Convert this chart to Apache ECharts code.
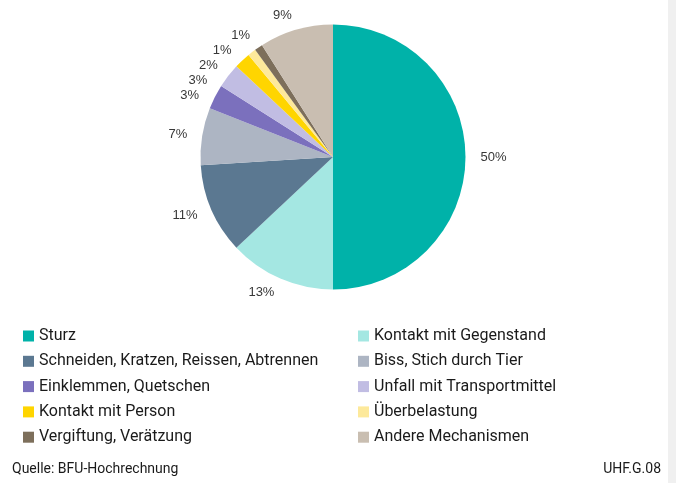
<!DOCTYPE html>
<html>
<head>
<meta charset="utf-8">
<script src="https://cdn.jsdelivr.net/npm/echarts@6/dist/echarts.min.js"></script>
<style>
  html, body { margin: 0; padding: 0; background: #fff; }
  #chart { width: 676px; height: 483px; }
</style>
</head>
<body>
<div id="chart"></div>
<script>
// Unfallmechanismen, Anteile in Prozent
const categories = [
  'Sturz',
  'Kontakt mit Gegenstand',
  'Schneiden, Kratzen, Reissen, Abtrennen',
  'Biss, Stich durch Tier',
  'Einklemmen, Quetschen',
  'Unfall mit Transportmittel',
  'Kontakt mit Person',
  'Überbelastung',
  'Vergiftung, Verätzung',
  'Andere Mechanismen'
];
const shares = [50, 13, 11, 7, 3, 3, 2, 1, 1, 9];
const colors = [
  '#00b2a9', '#a4e7e2', '#5b7891', '#adb5c3', '#7b70bd',
  '#c1bde3', '#ffd500', '#fde99b', '#7d6f5b', '#c9beb1'
];

// legend columns (row-wise pairing of the categories)
const legendLeft = categories.filter((_, i) => i % 2 === 0);
const legendRight = categories.filter((_, i) => i % 2 === 1);

const sourceText = 'Quelle: BFU-Hochrechnung';
const chartCode = 'UHF.G.08';

const chart = echarts.init(document.getElementById('chart'), null, { renderer: 'canvas' });

const legendBase = {
  orient: 'vertical',
  top: 327,
  padding: 0,
  itemWidth: 11,
  itemHeight: 11,
  itemGap: 7.3,
  icon: 'rect',
  selectedMode: false,
  textStyle: {
    fontFamily: 'Roboto',
    fontSize: 16,
    color: '#1a1a1a',
    lineHeight: 18
  }
};

chart.setOption({
  animation: false,
  color: colors,
  legend: [
    Object.assign({}, legendBase, { left: 23, data: legendLeft }),
    Object.assign({}, legendBase, { left: 358, data: legendRight })
  ],
  graphic: [
    {
      type: 'rect',
      right: 0,
      top: 0,
      shape: { width: 8, height: 483 },
      style: { fill: '#f0f0f0' },
      silent: true
    },
    {
      type: 'text',
      left: 12,
      top: 462,
      style: {
        text: sourceText,
        font: '14px Roboto',
        fill: '#1a1a1a'
      }
    },
    {
      type: 'text',
      right: 15,
      top: 462,
      style: {
        text: chartCode,
        font: '14px Roboto',
        fill: '#1a1a1a'
      }
    }
  ],
  series: [
    {
      type: 'pie',
      center: [333, 157],
      radius: [0, 132.5],
      startAngle: 90,
      clockwise: true,
      avoidLabelOverlap: true,
      silent: true,
      data: categories.map((name, i) => ({ name: name, value: shares[i] })),
      itemStyle: { borderWidth: 0 },
      label: {
        show: true,
        position: 'outside',
        formatter: p => p.value + '%',
        fontFamily: 'Liberation Sans',
        fontSize: 13,
        lineHeight: 13,
        color: '#383838',
        distanceToLabelLine: 0
      },
      labelLine: { show: false, length: 15, length2: 0 },
      emphasis: { disabled: true }
    }
  ]
});
</script>
</body>
</html>
